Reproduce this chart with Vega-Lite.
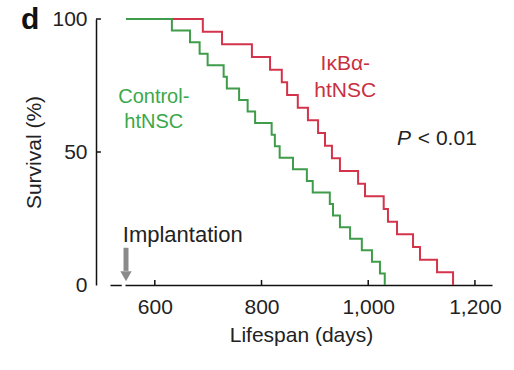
{
  "$schema": "https://vega.github.io/schema/vega-lite/v6.json",
  "width": 382,
  "height": 266,
  "autosize": {"type": "none"},
  "padding": {"left": 110, "top": 19, "right": 22, "bottom": 85},
  "background": "white",
  "config": {
    "view": {"stroke": null},
    "font": "Liberation Sans",
    "axis": {
      "grid": false,
      "ticks": false,
      "domainColor": "#111",
      "domainWidth": 1.5,
      "labelFontSize": 21,
      "titleFontSize": 21,
      "titleFontWeight": "normal",
      "labelColor": "#222",
      "titleColor": "#222",
      "labelFlush": false
    }
  },
  "title": {"text": "d", "anchor": "start", "frame": "bounds", "fontSize": 30, "fontWeight": "bold", "color": "#111", "dx": -3, "dy": 31},
  "datasets": {
    "curves": [
      {"group": "IκBα-htNSC", "days": 546, "survival": 100},
      {"group": "IκBα-htNSC", "days": 690, "survival": 95.24},
      {"group": "IκBα-htNSC", "days": 726, "survival": 90.48},
      {"group": "IκBα-htNSC", "days": 782, "survival": 85.71},
      {"group": "IκBα-htNSC", "days": 816, "survival": 80.95},
      {"group": "IκBα-htNSC", "days": 838, "survival": 76.19},
      {"group": "IκBα-htNSC", "days": 848, "survival": 71.43},
      {"group": "IκBα-htNSC", "days": 868, "survival": 66.67},
      {"group": "IκBα-htNSC", "days": 887, "survival": 61.9},
      {"group": "IκBα-htNSC", "days": 906, "survival": 57.14},
      {"group": "IκBα-htNSC", "days": 919, "survival": 52.38},
      {"group": "IκBα-htNSC", "days": 932, "survival": 47.62},
      {"group": "IκBα-htNSC", "days": 947, "survival": 42.86},
      {"group": "IκBα-htNSC", "days": 981, "survival": 38.1},
      {"group": "IκBα-htNSC", "days": 994, "survival": 33.33},
      {"group": "IκBα-htNSC", "days": 1029, "survival": 28.57},
      {"group": "IκBα-htNSC", "days": 1037, "survival": 23.81},
      {"group": "IκBα-htNSC", "days": 1054, "survival": 19.05},
      {"group": "IκBα-htNSC", "days": 1084, "survival": 14.29},
      {"group": "IκBα-htNSC", "days": 1097, "survival": 9.52},
      {"group": "IκBα-htNSC", "days": 1129, "survival": 4.76},
      {"group": "IκBα-htNSC", "days": 1159, "survival": 0},
      {"group": "Control-htNSC", "days": 546, "survival": 100},
      {"group": "Control-htNSC", "days": 632, "survival": 95.65},
      {"group": "Control-htNSC", "days": 666, "survival": 91.3},
      {"group": "Control-htNSC", "days": 684, "survival": 86.96},
      {"group": "Control-htNSC", "days": 699, "survival": 82.61},
      {"group": "Control-htNSC", "days": 729, "survival": 78.26},
      {"group": "Control-htNSC", "days": 735, "survival": 73.91},
      {"group": "Control-htNSC", "days": 758, "survival": 69.57},
      {"group": "Control-htNSC", "days": 774, "survival": 65.22},
      {"group": "Control-htNSC", "days": 788, "survival": 60.87},
      {"group": "Control-htNSC", "days": 819, "survival": 56.52},
      {"group": "Control-htNSC", "days": 825, "survival": 52.17},
      {"group": "Control-htNSC", "days": 834, "survival": 47.83},
      {"group": "Control-htNSC", "days": 859, "survival": 43.48},
      {"group": "Control-htNSC", "days": 885, "survival": 39.13},
      {"group": "Control-htNSC", "days": 896, "survival": 34.78},
      {"group": "Control-htNSC", "days": 928, "survival": 30.43},
      {"group": "Control-htNSC", "days": 934, "survival": 26.09},
      {"group": "Control-htNSC", "days": 947, "survival": 21.74},
      {"group": "Control-htNSC", "days": 966, "survival": 17.39},
      {"group": "Control-htNSC", "days": 988, "survival": 13.04},
      {"group": "Control-htNSC", "days": 1007, "survival": 8.7},
      {"group": "Control-htNSC", "days": 1022, "survival": 4.35},
      {"group": "Control-htNSC", "days": 1031, "survival": 0}
    ]
  },
  "layer": [
    {
      "data": {"name": "curves"},
      "mark": {"type": "line", "interpolate": "step-after", "strokeWidth": 2},
      "encoding": {
        "x": {
          "field": "days", "type": "quantitative",
          "scale": {"domain": [516, 1232], "nice": false, "zero": false},
          "axis": {"values": [600, 800, 1000, 1200], "format": ",d", "title": "Lifespan (days)", "labelPadding": 11, "titlePadding": 7}
        },
        "y": {
          "field": "survival", "type": "quantitative",
          "scale": {"domain": [0, 100], "nice": false},
          "axis": {"values": [0, 50, 100], "title": "Survival (%)", "offset": 14, "labelPadding": 9, "titlePadding": 7}
        },
        "color": {
          "field": "group", "type": "nominal",
          "scale": {"domain": ["IκBα-htNSC", "Control-htNSC"], "range": ["#d3344b", "#3f9c4a"]},
          "legend": null
        },
        "order": {"field": "days", "type": "quantitative"}
      }
    },
    {
      "data": {"values": [{"tick": 600}, {"tick": 800}, {"tick": 1000}, {"tick": 1200}]},
      "mark": {"type": "rule", "color": "#111", "strokeWidth": 1.5},
      "encoding": {"x": {"field": "tick", "type": "quantitative"}, "y": {"datum": 0}, "y2": {"datum": 1.9}}
    },
    {
      "data": {"values": [{"tick": 50}, {"tick": 100}]},
      "mark": {"type": "rule", "color": "#111", "strokeWidth": 1.5},
      "encoding": {"y": {"field": "tick", "type": "quantitative"}, "x": {"datum": 489.75}, "x2": {"datum": 499}}
    },
    {
      "data": {"values": [{}]},
      "mark": {"type": "rule", "color": "white", "strokeWidth": 4},
      "encoding": {"x": {"datum": 538}, "x2": {"datum": 545}, "y": {"datum": 0}}
    },
    {
      "data": {"values": [{}]},
      "mark": {"type": "rule", "color": "#8a8a8a", "strokeWidth": 5},
      "encoding": {"x": {"datum": 546}, "y": {"datum": 14}, "y2": {"datum": 5.3}}
    },
    {
      "data": {"values": [{}]},
      "mark": {"type": "point", "shape": "triangle-down", "filled": true, "color": "#8a8a8a", "opacity": 1, "size": 130},
      "encoding": {"x": {"datum": 546}, "y": {"datum": 3.3}}
    },
    {
      "data": {"values": [{}]},
      "mark": {"type": "text", "text": "Implantation", "align": "left", "baseline": "alphabetic", "fontSize": 22, "color": "#222"},
      "encoding": {"x": {"datum": 540}, "y": {"datum": 16.2}}
    },
    {
      "data": {"values": [{}]},
      "mark": {"type": "text", "text": ["Control-", "htNSC"], "align": "center", "baseline": "alphabetic", "fontSize": 20, "lineHeight": 25, "color": "#3aa84a"},
      "encoding": {"x": {"datum": 598}, "y": {"datum": 68.4}}
    },
    {
      "data": {"values": [{}]},
      "mark": {"type": "text", "text": ["IκBα-", "htNSC"], "align": "center", "baseline": "alphabetic", "fontSize": 21, "lineHeight": 27, "color": "#c9303f"},
      "encoding": {"x": {"datum": 957}, "y": {"datum": 80.8}}
    },
    {
      "data": {"values": [{}]},
      "mark": {"type": "text", "text": "P", "align": "left", "baseline": "alphabetic", "fontSize": 21, "fontStyle": "italic", "color": "#222"},
      "encoding": {"x": {"datum": 1054}, "y": {"datum": 52.6}}
    },
    {
      "data": {"values": [{}]},
      "mark": {"type": "text", "text": "< 0.01", "align": "left", "baseline": "alphabetic", "fontSize": 21, "color": "#222"},
      "encoding": {"x": {"datum": 1093}, "y": {"datum": 52.6}}
    }
  ]
}
